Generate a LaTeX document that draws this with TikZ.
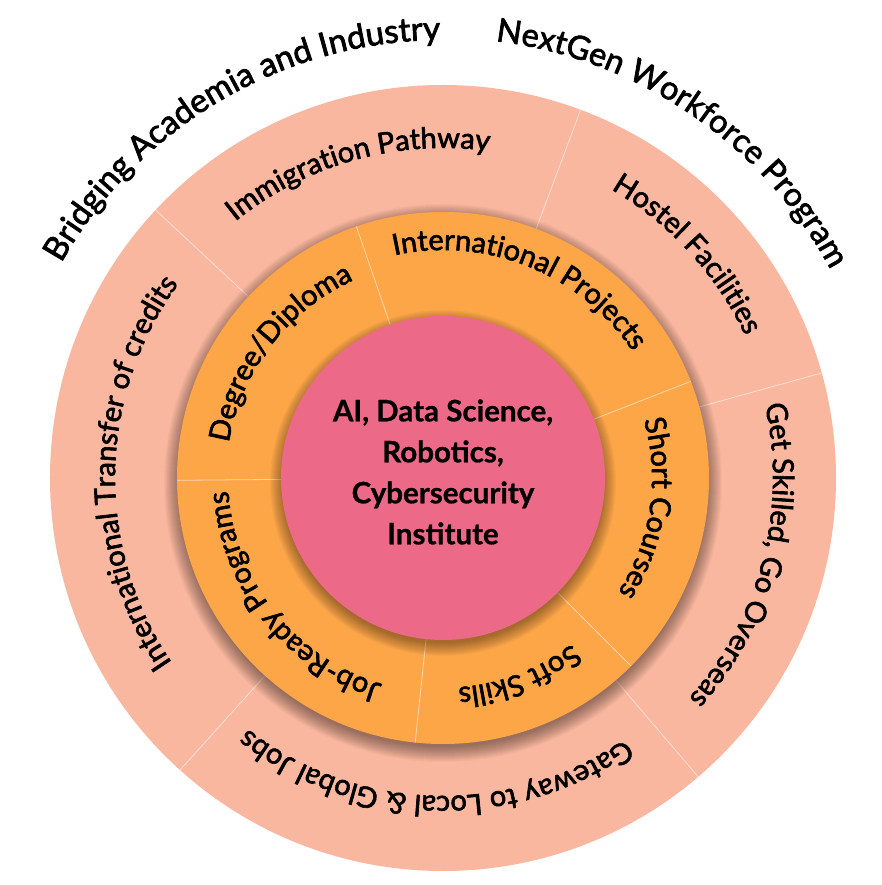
\documentclass[tikz,border=0pt]{standalone}
\usepackage{fontspec}
\setmainfont{Lato}
\newfontfamily\ringfont{Lato}[FakeBold=2.2]
\newfontfamily\ctrfont{Lato}[BoldFeatures={FakeBold=0.8}]
\usetikzlibrary{decorations.text}
\definecolor{salmon}{HTML}{FAB79F}
\definecolor{orng}{HTML}{FCA648}
\definecolor{pinkc}{HTML}{EC6A88}
\tikzset{
  divider/.style={draw=white, draw opacity=0.55, line width=0.8pt},
  shadowlayer/.style={fill=black, fill opacity=0.026},
}
\newcommand\arctext[5]{%
  \path[decorate, decoration={text along path, text align=center,
    text={|\fontsize{#4}{#4}\ringfont|#5}}]
    ({#1+#3}:#2) arc[start angle={#1+#3}, end angle={#1-#3}, radius=#2];}
\begin{document}
\begin{tikzpicture}[x=1pt,y=1pt]
\useasboundingbox (-443,-407) rectangle (438,478);
% outer ring
\fill[salmon] (0,0) circle (393);
\foreach \a in {69.5,137,15.5,-49.5,228} \draw[divider] (\a:266) -- (\a:393);
% shadow of middle ring
\foreach \k in {1,...,16} \fill[shadowlayer] (0,-5) circle (263+\k);
\fill[orng] (0,0) circle (266);
\foreach \a in {109,21.3,-45,-96,180.5} \draw[divider] (\a:162) -- (\a:266);
% shadow of inner circle
\foreach \k in {1,...,14} \fill[shadowlayer] (0,-5) circle (159+\k);
\fill[pinkc] (0,0) circle (162);
\node[font=\fontsize{29.5}{41}\ctrfont\bfseries, align=center, text=black, inner sep=0pt] (ctext) at (0,6)
  {AI, Data Science,\\Robotics,\\Cybersecurity\\Institute};
% outer ring texts
\arctext{105.5}{330}{45}{29}{Immigration Pathway}
\arctext{42.5}{334}{40}{29}{Hostel Facilities}
\arctext{-14.5}{330}{40}{29}{Get Skilled, Go Overseas}
\arctext{-91.5}{318}{45}{29}{Gateway to Local {\&} Global Jobs}
\arctext{179}{328}{48}{29}{International Transfer of credits}
% middle ring texts
\arctext{142.5}{217}{45}{29}{Degree/Diploma}
\arctext{68}{228}{50}{29}{International Projects}
\arctext{-8.5}{209}{40}{29}{Short Courses}
\arctext{-69}{210}{30}{29}{Soft Skills}
\arctext{218.5}{215}{50}{29}{Job-Ready Programs}
% outside texts
\arctext{120.5}{438}{40}{33}{Bridging Academia and Industry}
\arctext{55.7}{440}{35}{32.5}{NextGen Workforce Program}
\end{tikzpicture}
\end{document}
